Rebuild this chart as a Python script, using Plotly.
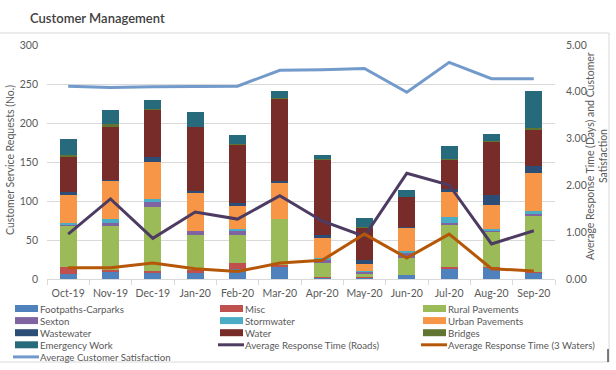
import plotly.graph_objects as go

months = ["Oct-19", "Nov-19", "Dec-19", "Jan-20", "Feb-20", "Mar-20",
          "Apr-20", "May-20", "Jun-20", "Jul-20", "Aug-20", "Sep-20"]

footpaths_carparks = [6, 10, 8, 8, 13, 15, 2, 2, 5.5, 13, 15, 8]
misc = [10, 2, 2, 3, 7, 3, 1, 1, 0, 2, 0.5, 1.5]
rural_pavements = [52, 56, 82, 46, 37, 59, 17, 4, 21, 54, 46, 71]
sexton = [2, 4, 7, 5, 4, 0, 5, 2, 7, 3, 1, 3]
stormwater = [2, 5, 4, 0, 3, 0, 2, 1.5, 2, 7, 2, 3.5]
urban_pavements = [36, 49, 47, 49, 30, 47, 26, 9, 30, 32, 30, 49]
wastewater = [3.5, 1, 6, 2, 4, 2, 3, 5, 1, 4, 13, 9]
water = [46, 68, 61, 82, 74, 106, 97, 41, 39, 38, 69, 47]
bridges = [1.5, 4, 1, 0.5, 1, 0.5, 0.5, 1, 0, 0.5, 1, 1.5]
emergency_work = [20, 18, 12, 18, 12, 8, 5, 12, 9, 17, 8, 48]

avg_response_roads = [0.96, 1.71, 0.87, 1.43, 1.28, 1.78, 1.24, 0.91, 2.26, 2.01, 0.75, 1.03]
avg_response_3waters = [0.24, 0.24, 0.34, 0.22, 0.16, 0.34, 0.40, 0.96, 0.45, 0.96, 0.22, 0.17]
avg_customer_satisfaction = [4.12, 4.09, 4.11, 4.12, 4.12, 4.46, 4.47, 4.50, 3.99, 4.63, 4.28, 4.28]

left_ticks = [0, 50, 100, 150, 200, 250, 300]
right_ticks = [0, 1, 2, 3, 4, 5]

bar_series = [
    ("Footpaths-Carparks", footpaths_carparks, "#4F81BD"),
    ("Misc", misc, "#C0504D"),
    ("Rural Pavements", rural_pavements, "#9BBB59"),
    ("Sexton", sexton, "#8064A2"),
    ("Stormwater", stormwater, "#4BACC6"),
    ("Urban Pavements", urban_pavements, "#F79646"),
    ("Wastewater", wastewater, "#2C4D75"),
    ("Water", water, "#772C2A"),
    ("Bridges", bridges, "#5F7530"),
    ("Emergency Work", emergency_work, "#276A7C"),
]
line_series = [
    ("Average Response Time (Roads)", avg_response_roads, "#4D3B62", 3),
    ("Average Response Time (3 Waters)", avg_response_3waters, "#B65708", 3),
    ("Average Customer Satisfaction", avg_customer_satisfaction, "#729ACA", 3),
]

W, H = 616, 370
L, R, T, B = 47, 61, 45, 91
PW, PH = W - L - R, H - T - B


def px(x):
    return (x - L) / PW


def py(y):
    return 1 - (y - T) / PH


FONT = "Lato, 'Open Sans', sans-serif"
GREY = "#595959"
LINEGREY = "#D9D9D9"

fig = go.Figure()
for name, vals, col in bar_series:
    fig.add_trace(go.Bar(x=months, y=vals, name=name, marker=dict(color=col, line=dict(width=0)),
                         showlegend=False))
for name, vals, col, w in line_series:
    fig.add_trace(go.Scatter(x=months, y=vals, name=name, mode="lines", yaxis="y2",
                             line=dict(color=col, width=w), showlegend=False))

shapes = []
annotations = []

# frame & title rule
shapes.append(dict(type="line", xref="paper", yref="paper", x0=px(0), x1=px(609), y0=py(33), y1=py(33),
                   line=dict(color=LINEGREY, width=1)))
shapes.append(dict(type="line", xref="paper", yref="paper", x0=px(609), x1=px(609), y0=py(33), y1=py(362),
                   line=dict(color=LINEGREY, width=1)))
shapes.append(dict(type="line", xref="paper", yref="paper", x0=px(0), x1=px(609), y0=py(362), y1=py(362),
                   line=dict(color=LINEGREY, width=1)))
shapes.append(dict(type="line", xref="paper", yref="paper", x0=px(608), x1=px(608), y0=py(349), y1=py(362),
                   line=dict(color="#000000", width=1)))

# custom legend
legend_items = [(n, c, "bar") for n, _, c in bar_series] + [(n, c, "line") for n, _, c, _ in line_series]
col_x = [15, 220, 423]
for i, (name, col, kind) in enumerate(legend_items):
    cx = col_x[i % 3]
    cy = 308.5 + 12.1 * (i // 3)
    if kind == "bar":
        shapes.append(dict(type="rect", xref="paper", yref="paper", x0=px(cx), x1=px(cx + 23),
                           y0=py(cy - 3.5), y1=py(cy + 3.5), fillcolor=col, line=dict(width=0)))
    else:
        shapes.append(dict(type="line", xref="paper", yref="paper", x0=px(cx - 2), x1=px(cx + 24),
                           y0=py(cy), y1=py(cy), line=dict(color=col, width=3)))
    annotations.append(dict(text=name, xref="paper", yref="paper", x=px(cx + 24), y=py(cy),
                            xanchor="left", yanchor="middle", showarrow=False, borderpad=0,
                            font=dict(family=FONT, size=9.7, color=GREY)))

# title
annotations.append(dict(text="Customer Management", xref="paper", yref="paper", x=px(29), y=py(18),
                        xanchor="left", yanchor="middle", showarrow=False, borderpad=0,
                        font=dict(family=FONT, size=13, color="#404040", weight=600)))
# axis titles
annotations.append(dict(text="Customer Service Requests (No.)", xref="paper", yref="paper",
                        x=px(10), y=py(160), xanchor="center", yanchor="middle", textangle=-90,
                        showarrow=False, font=dict(family=FONT, size=10.5, color=GREY)))
annotations.append(dict(text="Average Response Time (Days) and Customer", xref="paper",
                        yref="paper", x=px(590), y=py(156), xanchor="center", yanchor="middle",
                        textangle=-90, showarrow=False,
                        font=dict(family=FONT, size=10.5, color=GREY)))
annotations.append(dict(text="Satisfaction", xref="paper",
                        yref="paper", x=px(603), y=py(156), xanchor="center", yanchor="middle",
                        textangle=-90, showarrow=False,
                        font=dict(family=FONT, size=10.5, color=GREY)))

fig.update_layout(
    width=W, height=H,
    margin=dict(l=L, r=R, t=T, b=B, pad=0, autoexpand=False),
    paper_bgcolor="white", plot_bgcolor="white",
    barmode="stack", bargap=0.6,
    showlegend=False,
    font=dict(family=FONT, size=11, color=GREY),
    xaxis=dict(type="category", categoryorder="array", categoryarray=months,
               showline=True, linecolor=LINEGREY, linewidth=1, automargin=False, tickangle=0,
               ticks="outside", tickson="boundaries", ticklen=5, tickcolor=LINEGREY,
               ticklabelstandoff=4,
               tickfont=dict(family=FONT, size=10.5, color=GREY), showgrid=False),
    yaxis=dict(range=[0, 300], tickvals=left_ticks, showgrid=True, gridcolor=LINEGREY, gridwidth=1,
               zeroline=False, showline=False, ticks="", ticklabelstandoff=8, automargin=False,
               tickfont=dict(family=FONT, size=10.5, color=GREY)),
    yaxis2=dict(range=[0, 5], tickvals=right_ticks, tickformat=".2f", overlaying="y", side="right",
                showgrid=False, zeroline=False, showline=False, ticks="", ticklabelstandoff=10,
                automargin=False, tickfont=dict(family=FONT, size=10.5, color=GREY)),
    shapes=shapes,
    annotations=annotations,
)

fig.write_html("out.html", config={"displayModeBar": False},
               post_script="document.body.style.margin='0';")
